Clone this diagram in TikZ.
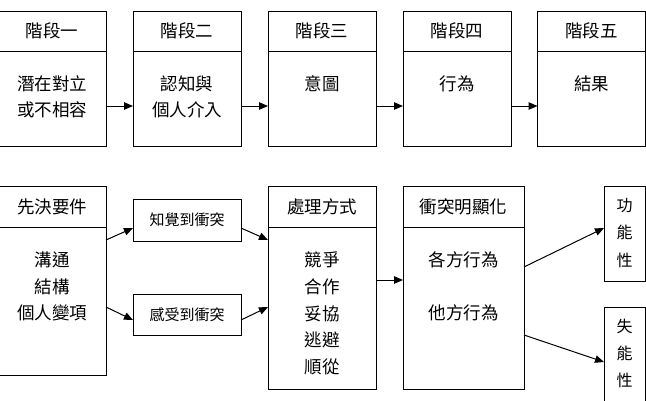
\documentclass[tikz,border=0pt]{standalone}
\usepackage{fontspec}
\setmainfont{Noto Sans CJK TC}
\usetikzlibrary{arrows.meta}
\begin{document}
\begin{tikzpicture}[x=1pt,y=-1pt,
  box/.style={draw, line width=1pt, outer sep=0pt, inner sep=0pt, anchor=north west},
  txt/.style={font=\fontsize{17.5}{26.6}\selectfont, align=center, inner sep=0pt},
  smalltxt/.style={font=\fontsize{15}{20}\selectfont},
  arr/.style={line width=1pt, -{Triangle[length=9pt,width=7.5pt]}}]
\useasboundingbox (0,0) rectangle (646,400);
\clip (0,0) rectangle (646,400);
% top row
\node[box, txt, minimum width=108pt, minimum height=40pt] (h1) at (-2,11) {階段一};
\node[box, minimum width=108pt, minimum height=95pt] (b1) at (-2,51) {};
\node[box, txt, minimum width=108pt, minimum height=40pt] (h2) at (133,11) {階段二};
\node[box, minimum width=108pt, minimum height=95pt] (b2) at (133,51) {};
\node[box, txt, minimum width=108pt, minimum height=40pt] (h3) at (268,11) {階段三};
\node[box, minimum width=108pt, minimum height=95pt] (b3) at (268,51) {};
\node[box, txt, minimum width=108pt, minimum height=40pt] (h4) at (403,11) {階段四};
\node[box, minimum width=108pt, minimum height=95pt] (b4) at (403,51) {};
\node[box, txt, minimum width=108pt, minimum height=40pt] (h5) at (537.5,11) {階段五};
\node[box, minimum width=108pt, minimum height=95pt] (b5) at (537.5,51) {};
\node[txt] (t1) at (52,97) {潛在對立\\或不相容};
\node[txt] (t2) at (187,97) {認知與\\個人介入};
\node[txt] (t3) at (322,84) {意圖};
\node[txt] (t4) at (457,84) {行為};
\node[txt] (t5) at (591.5,84) {結果};
\draw[arr] ([yshift=-7.5pt]b1.east) -- ([yshift=-7.5pt]b2.west);
\draw[arr] ([yshift=-7.5pt]b2.east) -- ([yshift=-7.5pt]b3.west);
\draw[arr] ([yshift=-7.5pt]b3.east) -- ([yshift=-7.5pt]b4.west);
\draw[arr] ([yshift=-7.5pt]b4.east) -- ([yshift=-7.5pt]b5.west);
% bottom row
\node[box, txt, minimum width=108pt, minimum height=41pt] (ph) at (-2,186) {先決要件};
\node[box, minimum width=108pt, minimum height=148pt] (pb) at (-2,227) {};
\node[txt] (pt) at (52,286.7) {溝通\\結構\\個人變項};
\node[box, smalltxt, minimum width=108pt, minimum height=42pt] (perc) at (133,199) {知覺到衝突};
\node[box, smalltxt, minimum width=108pt, minimum height=41pt] (felt) at (133,294) {感受到衝突};
\node[box, txt, minimum width=108pt, minimum height=41pt] (mh) at (268,186) {處理方式};
\node[box, minimum width=108pt, minimum height=162pt] (mb) at (268,227) {};
\node[txt] (mt) at (322,313.5) {競爭\\合作\\妥協\\逃避\\順從};
\node[box, txt, minimum width=121pt, minimum height=41pt] (ch) at (403,186) {衝突明顯化};
\node[box, minimum width=121pt, minimum height=162pt] (cb) at (403,227) {};
\node[txt] (ct1) at (463.5,260) {各方行為};
\node[txt] (ct2) at (463.5,313) {他方行為};
\node[box, minimum width=41pt, minimum height=95pt] (func) at (604,186) {};
\node[txt, font=\fontsize{16}{27.5}\selectfont] (ft) at (624.5,232.7) {功\\能\\性};
\node[box, minimum width=41pt, minimum height=120pt] (dys) at (604,307) {};
\node[txt, font=\fontsize{16}{27}\selectfont] (dt) at (624.5,353.3) {失\\能\\性};
\draw[arr] ([yshift=61pt]pb.east) -- ([yshift=-8pt]perc.west);
\draw[arr] ([yshift=-6pt]pb.east) -- ([yshift=-5.5pt]felt.west);
\draw[arr] ([yshift=-8pt]perc.east) -- ([yshift=68pt]mb.west);
\draw[arr] ([yshift=-5.5pt]felt.east) -- ([yshift=1pt]mb.west);
\draw[arr] ([yshift=28pt]mb.east) -- ([yshift=28pt]cb.west);
\draw[arr] ([yshift=41pt]cb.east) -- ([yshift=5.5pt]func.west);
\draw[arr] ([yshift=-27pt]cb.east) -- ([yshift=5pt]dys.west);
\end{tikzpicture}
\end{document}
